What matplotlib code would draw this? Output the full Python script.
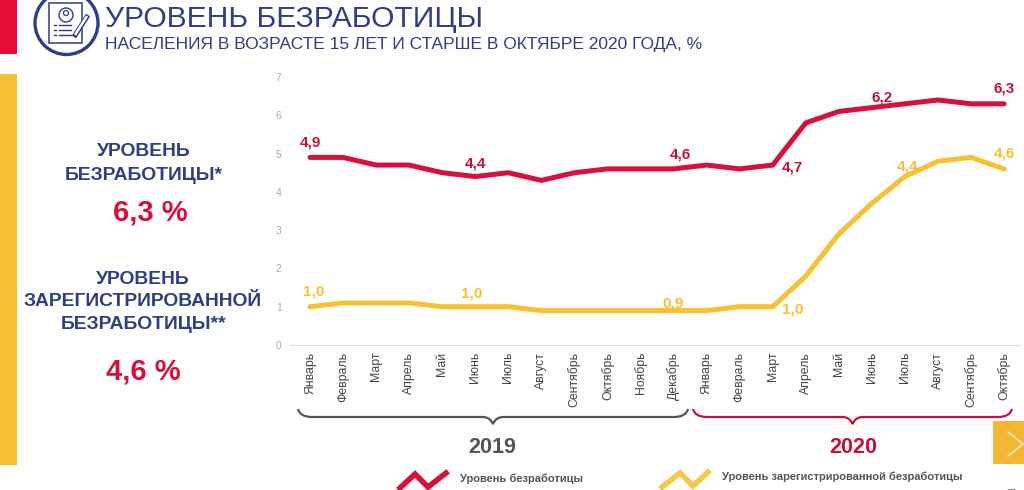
import matplotlib
matplotlib.use('Agg')
import matplotlib.pyplot as plt
from matplotlib.patches import Circle, Rectangle, PathPatch
from matplotlib.path import Path

plt.rcParams['font.family'] = ['Liberation Sans', 'DejaVu Sans']

months_2019 = ['Январь', 'Февраль', 'Март', 'Апрель', 'Май', 'Июнь', 'Июль', 'Август',
               'Сентябрь', 'Октябрь', 'Ноябрь', 'Декабрь']
months_2020 = ['Январь', 'Февраль', 'Март', 'Апрель', 'Май', 'Июнь', 'Июль', 'Август',
               'Сентябрь', 'Октябрь']
months = months_2019 + months_2020
unemployment = [4.9, 4.9, 4.7, 4.7, 4.5, 4.4, 4.5, 4.3, 4.5, 4.6, 4.6, 4.6,
                4.7, 4.6, 4.7, 5.8, 6.1, 6.2, 6.3, 6.4, 6.3, 6.3]
registered = [1.0, 1.1, 1.1, 1.1, 1.0, 1.0, 1.0, 0.9, 0.9, 0.9, 0.9, 0.9,
              0.9, 1.0, 1.0, 1.8, 2.9, 3.7, 4.4, 4.8, 4.9, 4.6]
y_ticks = [0, 1, 2, 3, 4, 5, 6, 7]

red = '#d90f3c'
dark_red = '#c4123f'
yellow = '#f7c133'
navy = '#2f3f7f'
W, H = 1024, 490
fig = plt.figure(figsize=(W / 100, H / 100), dpi=100)

# chart axes, placed in pixels
x0, step = 310, 33.05
left, right, top, bottom = 290, 1020, 77, 345
ax = fig.add_axes([left / W, 1 - bottom / H, (right - left) / W, (bottom - top) / H])
ax.set_xlim((left - x0) / step, (right - x0) / step)
ax.set_ylim(0, 7)
ax.plot(range(len(months)), registered, color=yellow, lw=3.6, solid_joinstyle='miter', solid_capstyle='round')
ax.plot(range(len(months)), unemployment, color=red, lw=3.6, solid_joinstyle='miter', solid_capstyle='round')
for s in ['top', 'right', 'left']:
    ax.spines[s].set_visible(False)
ax.spines['bottom'].set_color('#dddddd')
ax.set_yticks(y_ticks)
ax.set_yticklabels(y_ticks, fontsize=7.5, color='#aaaaaa')
ax.tick_params(axis='y', length=0, pad=6)
ax.set_xticks(range(len(months)))
ax.set_xticklabels(months, rotation=90, fontsize=8.8, color='#444444', va='top')
ax.tick_params(axis='x', length=0, pad=5)
ax.patch.set_alpha(0)

# value labels: index, text, text offset in px
red_labels = [(0, '4,9', 0, 15), (5, '4,4', 0, 13), (11, '4,6', 7, 14), (14, '4,7', 20, -2),
              (17, '6,2', 10, 10), (21, '6,3', 0, 15)]
yellow_labels = [(0, '1,0', 4, 15), (5, '1,0', -4, 13), (11, '0,9', 0, 7), (14, '1,0', 20, -3),
                 (18, '4,4', 3, 10), (21, '4,6', 0, 15)]
for i, txt, dx, dy in red_labels:
    ax.annotate(txt, (i, unemployment[i]), xytext=(dx * 0.72, dy * 0.72), textcoords='offset points',
                ha='center', va='center', fontsize=11, fontweight='bold', color=dark_red)
for i, txt, dx, dy in yellow_labels:
    ax.annotate(txt, (i, registered[i]), xytext=(dx * 0.72, dy * 0.72), textcoords='offset points',
                ha='center', va='center', fontsize=11, fontweight='bold', color=yellow)

# overlays in pixel coordinates for the slide decoration
ov = fig.add_axes([0, 0, 1, 1], zorder=-1)
ov.set_xlim(0, W)
ov.set_ylim(H, 0)
ov.axis('off')
ov2 = fig.add_axes([0, 0, 1, 1], zorder=5)
ov2.set_xlim(0, W)
ov2.set_ylim(H, 0)
ov2.axis('off')
ov2.patch.set_alpha(0)

ov.add_patch(Rectangle((0, 0), 17, 54, color='#e30d36', lw=0))
ov.add_patch(Rectangle((0, 74), 17, 391, color=yellow, lw=0))

# header icon
ov2.add_patch(Circle((66.5, 23), 31.5, fill=False, ec=navy, lw=2.4))
ov2.add_patch(Rectangle((49, 3), 33, 40, fill=False, ec=navy, lw=1.1))
ov2.add_patch(Circle((66, 15), 7, fill=False, ec=navy, lw=1))
ov2.add_patch(Circle((66, 13), 2.5, fill=False, ec=navy, lw=0.9))
for y in [25, 30, 35]:
    ov2.plot([54, 56], [y, y], color=navy, lw=1)
    ov2.plot([59, 71], [y, y], color=navy, lw=1)
ov2.plot([74, 88], [37, 15], color=navy, lw=3.6, solid_capstyle='butt')
ov2.plot([75, 87], [35, 16], color='white', lw=1.8, solid_capstyle='butt')

ov2.text(105, 19, 'УРОВЕНЬ БЕЗРАБОТИЦЫ', fontsize=21.6, color=navy, va='center', ha='left')
ov2.text(105, 45, 'НАСЕЛЕНИЯ В ВОЗРАСТЕ 15 ЛЕТ И СТАРШЕ В ОКТЯБРЕ 2020 ГОДА, %', fontsize=12.5,
         color=navy, va='center', ha='left')

# left panel
side = dict(ha='center', va='center', fontsize=13.9, fontweight='bold', color=navy)
ov2.text(144, 151, 'УРОВЕНЬ', **side)
ov2.text(144, 175, 'БЕЗРАБОТИЦЫ*', **side)
ov2.text(150, 212, '6,3 %', ha='center', va='center', fontsize=21, fontweight='bold', color=red)
ov2.text(143, 279, 'УРОВЕНЬ', **side)
ov2.text(143, 301, 'ЗАРЕГИСТРИРОВАННОЙ', **side)
ov2.text(143, 324, 'БЕЗРАБОТИЦЫ**', **side)
ov2.text(143, 371, '4,6 %', ha='center', va='center', fontsize=21, fontweight='bold', color=red)


def brace(x1, x2, y, color):
    mid = (x1 + x2) / 2
    verts = [(x1, y), (x1 + 2, y + 8), (x1 + 14, y + 8),
             (mid - 10, y + 8), (mid - 3, y + 8), (mid, y + 15),
             (mid + 3, y + 8), (mid + 10, y + 8), (x2 - 14, y + 8),
             (x2 - 2, y + 8), (x2, y)]
    codes = [Path.MOVETO, Path.CURVE3, Path.CURVE3,
             Path.LINETO, Path.CURVE3, Path.CURVE3,
             Path.CURVE3, Path.CURVE3, Path.LINETO,
             Path.CURVE3, Path.CURVE3]
    ov2.add_patch(PathPatch(Path(verts, codes), fill=False, ec=color, lw=1.6))


brace(298, 688, 409, '#555555')
brace(693, 1012, 409, dark_red)
ov2.text(492, 447, '2019', ha='center', va='center', fontsize=15.5, fontweight='bold', color='#555555')
ov2.text(853, 447, '2020', ha='center', va='center', fontsize=15.5, fontweight='bold', color=dark_red)

# next slide button
ov2.add_patch(Rectangle((993, 421), 31, 43, color='#f5b731', lw=0))
ov2.plot([1008, 1023, 1008], [432, 444, 456], color='#fbe6b0', lw=1.3)

# legend
ov2.plot([400, 415, 428, 446], [488, 474, 487, 473], color=red, lw=4, solid_joinstyle='miter')
ov2.text(460, 479, 'Уровень безработицы', ha='left', va='center', fontsize=8.05, fontweight='bold', color='#555555')
ov2.plot([662, 680, 693, 708], [487, 473, 486, 472], color='#f5cb45', lw=4, solid_joinstyle='miter')
ov2.text(722, 477, 'Уровень зарегистрированной безработицы', ha='left', va='center', fontsize=8.0,
         fontweight='bold', color='#555555')
ov2.plot([1008, 1014], [489, 489], color='#888888', lw=0.8)

fig.savefig('out.png', dpi=100)
